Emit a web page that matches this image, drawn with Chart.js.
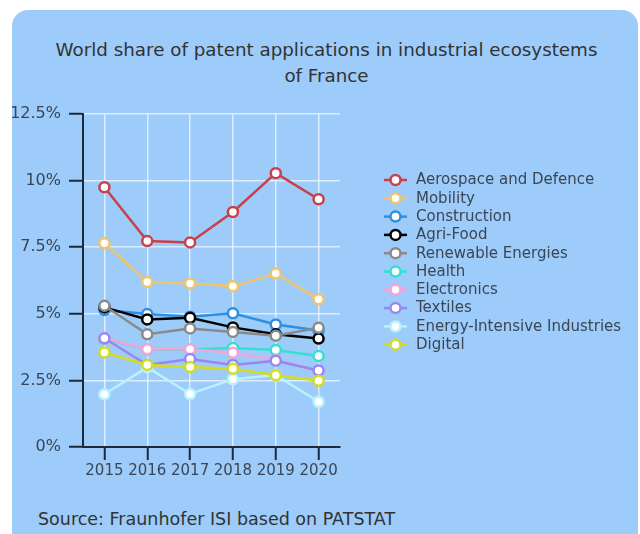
<!DOCTYPE html>
<html>
<head>
<meta charset="utf-8">
<script src="https://cdn.jsdelivr.net/npm/chart.js@4"></script>
<style>
  html, body { margin: 0; padding: 0; background: #ffffff; }
  #wrap { position: relative; width: 640px; height: 534px; overflow: hidden; }
  #bg { position: absolute; left: 12px; top: 10px; width: 626px; height: 540px; background: #9dcbfa; border-radius: 16px; }
  #title { position: absolute; left: 12px; top: 37px; width: 629px; text-align: center; font: 18.3px "DejaVu Sans", sans-serif; line-height: 26px; color: #333333; }
  #source { position: absolute; left: 38px; top: 509px; font: 17.5px "DejaVu Sans", sans-serif; color: #333333; white-space: nowrap; }
  canvas { position: absolute; left: 0; top: 0; }
</style>
</head>
<body>
<div id="wrap">
  <div id="bg"></div>
  <div id="title">World share of patent applications in industrial ecosystems<br>of France</div>
  <div id="source">Source: Fraunhofer ISI based on PATSTAT</div>
  <canvas id="c" width="640" height="534"></canvas>
</div>
<script>
const years = ['2015', '2016', '2017', '2018', '2019', '2020'];
const yTicks = [0, 2.5, 5, 7.5, 10, 12.5];

const seriesNames = [
  'Aerospace and Defence', 'Mobility', 'Construction', 'Agri-Food', 'Renewable Energies',
  'Health', 'Electronics', 'Textiles', 'Energy-Intensive Industries', 'Digital'
];
const aerospace     = [9.75, 7.73, 7.68, 8.82, 10.28, 9.30];
const mobility      = [7.65, 6.19, 6.14, 6.03, 6.51, 5.55];
const construction  = [5.14, 4.99, 4.89, 5.02, 4.60, 4.37];
const agriFood      = [5.24, 4.79, 4.85, 4.49, 4.23, 4.07];
const renewable     = [5.30, 4.23, 4.45, 4.32, 4.18, 4.48];
const health        = [4.06, 3.66, 3.66, 3.72, 3.64, 3.42];
const electronics   = [4.08, 3.67, 3.67, 3.54, 3.27, 2.86];
const textiles      = [4.08, 3.08, 3.30, 3.08, 3.24, 2.87];
const energyInt     = [1.98, 2.99, 1.99, 2.54, 2.70, 1.70];
const digital       = [3.55, 3.08, 3.00, 2.94, 2.69, 2.49];

const seriesValues = [aerospace, mobility, construction, agriFood, renewable,
                      health, electronics, textiles, energyInt, digital];
const seriesColors = ['#c9404b', '#f2c46a', '#2f8fe0', '#000000', '#8a8a8a',
                      '#34e0d2', '#f2a4d6', '#9a86ee', '#b8f2ff', '#d6dc1e'];

const N = seriesNames.length;
const datasets = seriesNames.map((name, i) => ({
  label: name,
  data: seriesValues[i],
  borderColor: seriesColors[i],
  backgroundColor: '#ffffff',
  pointBackgroundColor: '#ffffff',
  pointBorderColor: seriesColors[i],
  borderWidth: 2.5,
  pointRadius: 5,
  pointBorderWidth: 2.5,
  pointHoverRadius: 5,
  tension: 0,
  order: N - i
}));

const legendPlugin = {
  id: 'customLegend',
  afterDraw(chart) {
    const ctx = chart.ctx;
    ctx.save();
    ctx.font = '15px "DejaVu Sans", sans-serif';
    ctx.textBaseline = 'middle';
    ctx.textAlign = 'left';
    chart.data.datasets.forEach((ds, i) => {
      const y = 180 + i * 18.3;
      ctx.strokeStyle = ds.borderColor;
      ctx.lineWidth = 2.5;
      ctx.beginPath();
      ctx.moveTo(384, y);
      ctx.lineTo(407, y);
      ctx.stroke();
      ctx.beginPath();
      ctx.arc(395.5, y, 5, 0, Math.PI * 2);
      ctx.fillStyle = '#ffffff';
      ctx.fill();
      ctx.stroke();
      ctx.fillStyle = '#3b4654';
      ctx.fillText(ds.label, 416, y + 0.5);
    });
    ctx.restore();
  }
};

new Chart(document.getElementById('c'), {
  type: 'line',
  data: { labels: years, datasets: datasets },
  options: {
    responsive: false,
    animation: false,
    events: [],
    layout: { padding: { left: 0, right: 300, top: 114, bottom: 0 } },
    plugins: {
      legend: { display: false },
      title: { display: false },
      tooltip: { enabled: false }
    },
    scales: {
      x: {
        offset: true,
        grid: { offset: false, color: 'rgba(255,255,255,0.65)', lineWidth: 1.5, tickLength: 13, tickColor: '#1c2a3c', tickWidth: 2, drawOnChartArea: true },
        border: { color: '#1c2a3c', width: 2 },
        ticks: { color: '#3b4654', font: { family: 'DejaVu Sans', size: 15 }, padding: 2, autoSkip: false, maxRotation: 0 },
        afterFit(scale) { scale.height = 87; }
      },
      y: {
        min: 0, max: 12.5,
        afterBuildTicks(scale) { scale.ticks = yTicks.map(v => ({ value: v })); },
        grid: { color: 'rgba(255,255,255,0.65)', lineWidth: 1.5, tickLength: 14, tickColor: '#1c2a3c', tickWidth: 2 },
        border: { color: '#1c2a3c', width: 2 },
        ticks: { color: '#3b4654', font: { family: 'DejaVu Sans', size: 16 }, padding: 8, callback: v => v + '%' },
        afterFit(scale) { scale.width = 83; }
      }
    }
  },
  plugins: [legendPlugin]
});
</script>
</body>
</html>
